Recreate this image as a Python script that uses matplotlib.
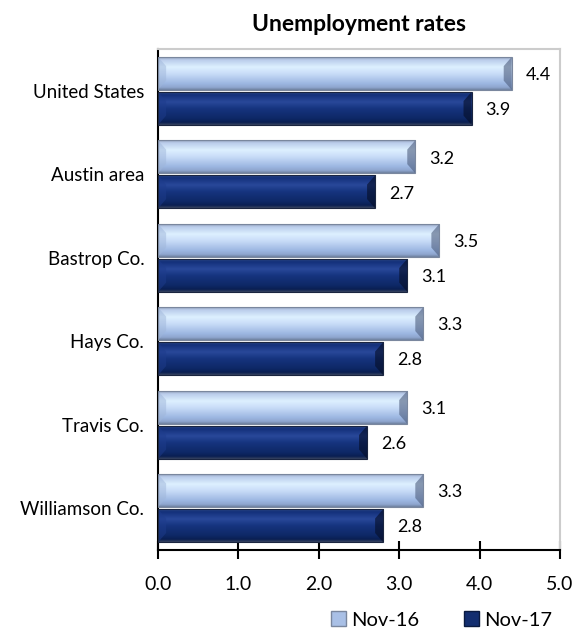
import matplotlib
matplotlib.use("Agg")
import matplotlib.pyplot as plt
import numpy as np
from matplotlib.colors import LinearSegmentedColormap
from matplotlib.patches import Patch, Polygon

categories = ["United States", "Austin area", "Bastrop Co.", "Hays Co.", "Travis Co.", "Williamson Co."]
nov16 = [4.4, 3.2, 3.5, 3.3, 3.1, 3.3]
nov17 = [3.9, 2.7, 3.1, 2.8, 2.6, 2.8]
series_names = ["Nov-16", "Nov-17"]
xticks = [0.0, 1.0, 2.0, 3.0, 4.0, 5.0]

plt.rcParams['font.family'] = ['Lato', 'DejaVu Sans']

fig = plt.figure(figsize=(5.77, 6.3), dpi=100)
ax = fig.add_axes([0.274, 0.127, 0.6965, 0.795])

n = len(categories)
y = np.arange(n)[::-1].astype(float)
h = 0.395

light_cmap = LinearSegmentedColormap.from_list("light", [
    (0.0, "#8E9BB4"), (0.08, "#B9CBEA"), (0.3, "#DDF0FF"), (0.5, "#C9DDF8"),
    (0.8, "#9DB7E2"), (0.92, "#8FA6CF"), (1.0, "#6E7F9E")])
dark_cmap = LinearSegmentedColormap.from_list("dark", [
    (0.0, "#2E4A86"), (0.08, "#13307A"), (0.3, "#29489A"), (0.5, "#16347F"),
    (0.8, "#0E2866"), (0.92, "#0A1F52"), (1.0, "#3A4660")])

grad = np.linspace(0, 1, 256).reshape(-1, 1)

def draw(vals, offsets, cmap, edge, end_dark, end_light):
    bars = ax.barh(offsets, vals, height=h, color='none', edgecolor=edge, linewidth=0.8, zorder=4)
    for b in bars:
        x0, y0 = b.get_x(), b.get_y()
        w, hh = b.get_width(), b.get_height()
        ax.imshow(grad, cmap=cmap, aspect='auto', extent=(x0, x0 + w, y0, y0 + hh),
                  origin='upper', zorder=2, interpolation='bilinear')
        dx, dy = 0.1, hh * 0.28
        x1 = x0 + w
        ax.add_patch(Polygon([(x1 - dx, y0 + dy), (x1, y0), (x1, y0 + hh), (x1 - dx, y0 + hh - dy)],
                             closed=True, facecolor=end_dark, edgecolor='none', alpha=0.6, zorder=3))
        ax.add_patch(Polygon([(x0 + dx, y0 + dy), (x0, y0), (x0, y0 + hh), (x0 + dx, y0 + hh - dy)],
                             closed=True, facecolor=end_light, edgecolor='none', alpha=0.5, zorder=3))
    return bars

b1 = draw(nov16, y + h / 2 + 0.012, light_cmap, "#7A879E", "#4E5E7E", "#9FB6DA")
b2 = draw(nov17, y - h / 2 - 0.012, dark_cmap, "#1A2540", "#050D25", "#1E3C8C")

for bars, vals in ((b1, nov16), (b2, nov17)):
    for b, v in zip(bars, vals):
        ax.text(v + 0.17, b.get_y() + b.get_height() / 2 - 0.02, f"{v:.1f}", va='center', ha='left',
                fontsize=13, color='#000000')

ax.set_xlim(0, 5)
ax.set_ylim(-0.5, n - 0.5)
ax.set_yticks(y)
ax.set_yticklabels(categories, fontsize=13.5)
ax.tick_params(axis='y', length=0, pad=10)
ax.set_xticks(xticks)
ax.set_xticklabels([f"{t:.1f}" for t in xticks], fontsize=14)
ax.tick_params(axis='x', direction='inout', length=13, width=1.5, pad=12)

for s in ('left', 'bottom'):
    ax.spines[s].set_color('black')
    ax.spines[s].set_linewidth(1.5)
for s in ('top', 'right'):
    ax.spines[s].set_color('#CCCCCC')
    ax.spines[s].set_linewidth(1.5)

ax.set_title("Unemployment rates", fontsize=16.5, fontweight='bold', pad=13)

handles = [Patch(facecolor="#A9C0E6", edgecolor="#7A879E", label=series_names[0]),
           Patch(facecolor="#132E70", edgecolor="#0A1A40", label=series_names[1])]
fig.legend(handles=handles, loc='center', bbox_to_anchor=(0.765, 0.016), ncol=2, frameon=False,
           fontsize=14.5, handlelength=0.75, handleheight=0.75, handletextpad=0.25, columnspacing=2.2,
           bbox_transform=fig.transFigure)

fig.savefig("out.png", dpi=100)
